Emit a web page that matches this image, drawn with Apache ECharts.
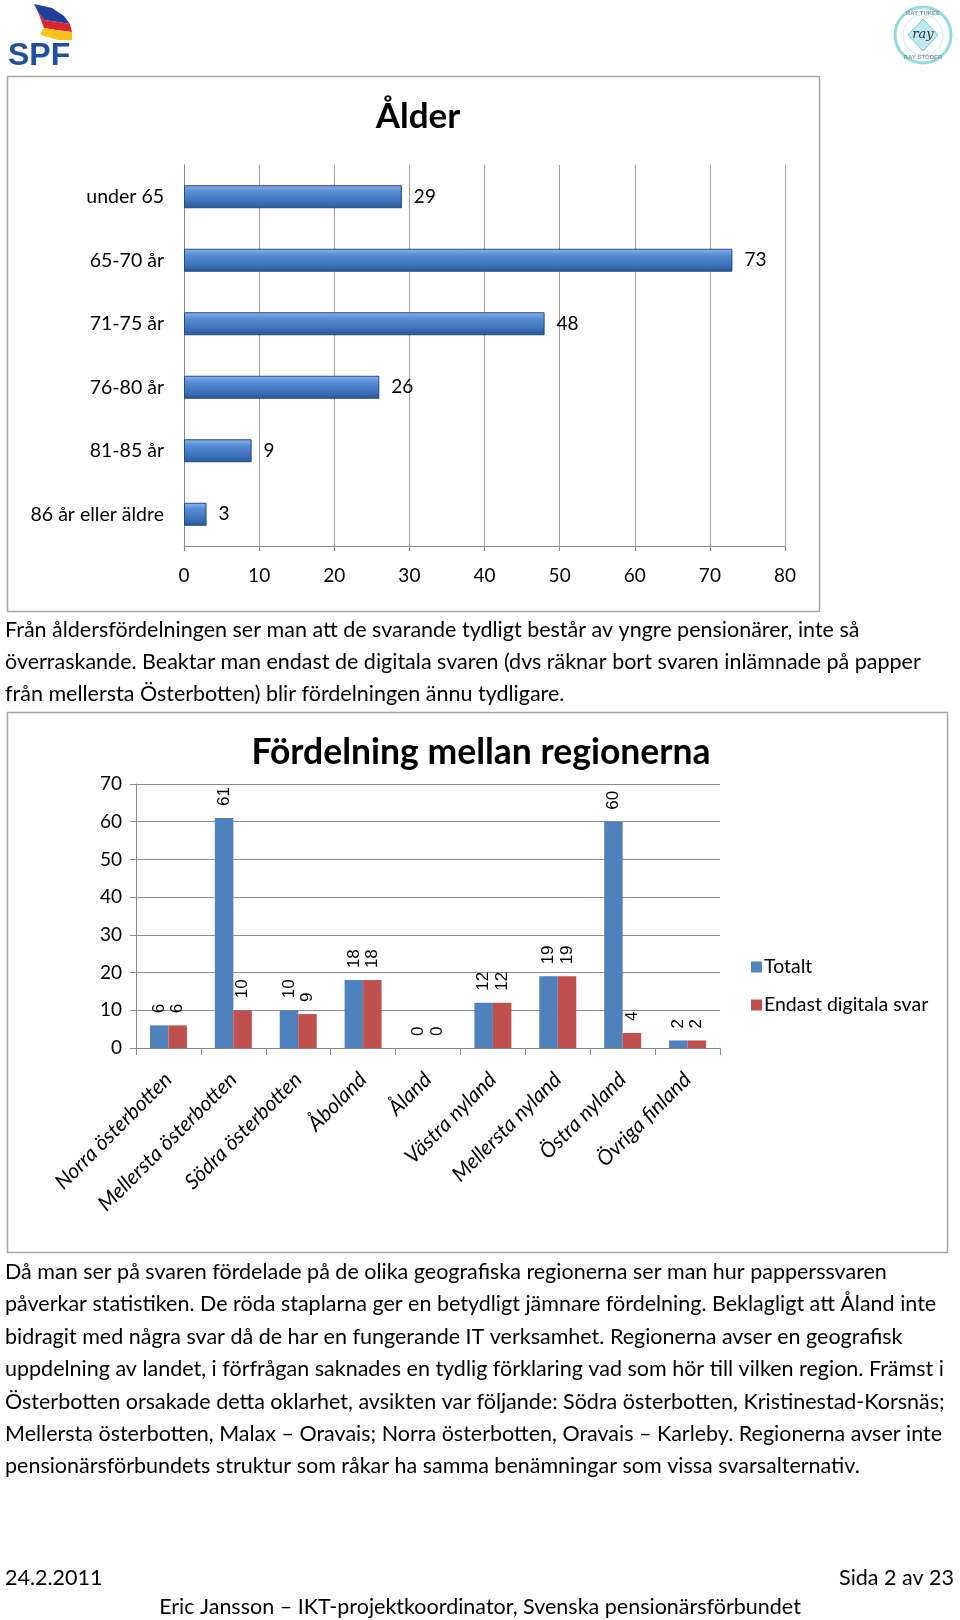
<!DOCTYPE html>
<html><head><meta charset="utf-8">
<script src="https://cdn.jsdelivr.net/npm/echarts@6/dist/echarts.min.js"></script>
<style>html,body{margin:0;padding:0;background:#fff}#c{width:960px;height:1620px}</style>
</head><body><div id="c"></div>
<script>
// ---- data ----
const ageCategories = ['under 65','65-70 år','71-75 år','76-80 år','81-85 år','86 år eller äldre'];
const ageValues = [29,73,48,26,9,3];
const regions = ['Norra österbotten','Mellersta österbotten','Södra österbotten','Åboland','Åland','Västra nyland','Mellersta nyland','Östra nyland','Övriga finland'];
const totaltValues = [6,61,10,18,0,12,19,60,2];
const digitalValues = [6,10,9,18,0,12,19,4,2];
const seriesNames = ['Totalt','Endast digitala svar'];
const para1 = [
 'Från åldersfördelningen ser man att de svarande tydligt består av yngre pensionärer, inte så',
 'överraskande. Beaktar man endast de digitala svaren (dvs räknar bort svaren inlämnade på papper',
 'från mellersta Österbotten) blir fördelningen ännu tydligare.'
];
const para2 = [
 'Då man ser på svaren fördelade på de olika geografiska regionerna ser man hur papperssvaren',
 'påverkar statistiken. De röda staplarna ger en betydligt jämnare fördelning. Beklagligt att Åland inte',
 'bidragit med några svar då de har en fungerande IT verksamhet. Regionerna avser en geografisk',
 'uppdelning av landet, i förfrågan saknades en tydlig förklaring vad som hör till vilken region. Främst i',
 'Österbotten orsakade detta oklarhet, avsikten var följande: Södra österbotten, Kristinestad-Korsnäs;',
 'Mellersta österbotten, Malax – Oravais; Norra österbotten, Oravais – Karleby. Regionerna avser inte',
 'pensionärsförbundets struktur som råkar ha samma benämningar som vissa svarsalternativ.'
];
const footerLeft = '24.2.2011';
const footerRight = 'Sida 2 av 23';
const footerCenter = 'Eric Jansson – IKT-projektkoordinator, Svenska pensionärsförbundet';

const FONT = 'Lato';
const BODY = '21.5px ' + FONT;
const chart = echarts.init(document.getElementById('c'), null, {renderer:'canvas'});

const graphics = [];
// boxes
graphics.push({type:'rect', shape:{x:7.5,y:76.5,width:812,height:535}, style:{fill:'none',stroke:'#a6a6a6',lineWidth:1.5}, z:-1});
graphics.push({type:'rect', shape:{x:7.5,y:712.5,width:940,height:540}, style:{fill:'none',stroke:'#a6a6a6',lineWidth:1.5}, z:-1});
// text lines
function addLines(lines, y0, step){
  lines.forEach((t,i)=>graphics.push({type:'text', x:5, y:y0+i*step, style:{text:t, font:BODY, fill:'#000', textVerticalAlign:'middle'}}));
}
addLines(para1, 630, 32);
addLines(para2, 1272, 32.4);
graphics.push({type:'text', x:5, y:1578, style:{text:footerLeft, font:BODY, fill:'#000', textVerticalAlign:'middle'}});
graphics.push({type:'text', x:954, y:1578, style:{text:footerRight, font:BODY, fill:'#000', textAlign:'right', textVerticalAlign:'middle'}});
graphics.push({type:'text', x:480, y:1607, style:{text:footerCenter, font:BODY, fill:'#000', textAlign:'center', textVerticalAlign:'middle'}});
// SPF logo
graphics.push({type:'polygon', shape:{points:[[34,4],[52,8],[64,16],[70,24],[58,22],[44,20],[38,12]]}, style:{fill:'#1f3f9a'}});
graphics.push({type:'polygon', shape:{points:[[38,12],[44,20],[58,22],[70,24],[72,32],[56,30],[44,28]]}, style:{fill:'#d7262e'}});
graphics.push({type:'polygon', shape:{points:[[44,28],[56,30],[72,32],[72,40],[58,40],[44,36],[40,34]]}, style:{fill:'#f6c21b'}});
graphics.push({type:'text', x:8, y:56, style:{text:'SPF', font:'bold 32px "Liberation Sans"', fill:'#1f4fa0', textVerticalAlign:'middle'}});
// ray logo
graphics.push({type:'circle', shape:{cx:923,cy:35,r:28}, style:{fill:'#fff',stroke:'#8fdbe2',lineWidth:3}});
graphics.push({type:'circle', shape:{cx:923,cy:35,r:20}, style:{fill:'none',stroke:'#c6eef2',lineWidth:1}});
graphics.push({type:'polygon', shape:{points:[[923,19],[938,35],[923,51],[908,35]]}, style:{fill:'#bfeaf0',stroke:'#6ccfd9',lineWidth:1}});
graphics.push({type:'text', x:923, y:35, style:{text:'ray', font:'italic 13px "DejaVu Serif"', fill:'#333', textAlign:'center', textVerticalAlign:'middle'}});
graphics.push({type:'text', x:923, y:13, style:{text:'RAY TUKEE', font:'bold 6px "Liberation Sans"', fill:'#7a9aa0', textAlign:'center', textVerticalAlign:'middle'}});
graphics.push({type:'text', x:923, y:57, style:{text:'RAY STÖDER', font:'bold 6px "Liberation Sans"', fill:'#7a9aa0', textAlign:'center', textVerticalAlign:'middle'}});

const barGrad = new echarts.graphic.LinearGradient(0,0,0,1,[
  {offset:0,color:'#8db5ea'},{offset:0.25,color:'#5a8fd6'},{offset:0.7,color:'#3d72bb'},{offset:1,color:'#2b5894'}]);

const option = {
  animation:false,
  backgroundColor:'#fff',
  textStyle:{fontFamily:FONT},
  title:[
    {text:'Ålder', left:413, top:112, textAlign:'center', textVerticalAlign:'middle',
     textStyle:{fontFamily:FONT,fontWeight:'bold',fontSize:35,color:'#000'}},
    {text:'Fördelning mellan regionerna', left:476, top:748, textAlign:'center', textVerticalAlign:'middle',
     textStyle:{fontFamily:FONT,fontWeight:'bold',fontSize:35.5,color:'#000'}}
  ],
  legend:{
    left:746, top:952, orient:'vertical', itemWidth:11, itemHeight:11, itemGap:18,
    data:seriesNames, icon:'rect',
    textStyle:{fontFamily:FONT,fontSize:19.5,color:'#000',padding:[0,0,0,-3]}
  },
  grid:[
    {left:184, right:175, top:165, bottom:1074, containLabel:false},
    {left:136, right:240, top:784, bottom:572, containLabel:false}
  ],
  xAxis:[
    {gridIndex:0, type:'value', min:0, max:80, interval:10,
     axisLine:{show:true,lineStyle:{color:'#888'}}, axisTick:{show:true,length:5,lineStyle:{color:'#888'}},
     splitLine:{show:true,lineStyle:{color:'#a0a0a0'}},
     axisLabel:{fontFamily:FONT,fontSize:19,color:'#000',margin:20}},
    {gridIndex:1, type:'category', data:regions,
     axisLine:{show:true,lineStyle:{color:'#888'}}, axisTick:{show:true,length:7,lineStyle:{color:'#888'}},
     axisLabel:{fontFamily:FONT,fontSize:21,color:'#000',fontStyle:'italic',rotate:45,margin:28,interval:0}}
  ],
  yAxis:[
    {gridIndex:0, type:'category', data:ageCategories, inverse:true,
     axisLine:{show:true,lineStyle:{color:'#888'}}, axisTick:{show:false},
     axisLabel:{fontFamily:FONT,fontSize:19.5,color:'#000',margin:20}},
    {gridIndex:1, type:'value', min:0, max:70, interval:10,
     axisLine:{show:true,lineStyle:{color:'#888'}}, axisTick:{show:true,length:6,lineStyle:{color:'#888'}},
     splitLine:{show:true,lineStyle:{color:'#8c8c8c'}},
     axisLabel:{fontFamily:FONT,fontSize:19,color:'#000',margin:14}}
  ],
  series:[
    {type:'bar', xAxisIndex:0, yAxisIndex:0, data:ageValues, barWidth:23,
     itemStyle:{color:barGrad, borderColor:'#1f4a80', borderWidth:1},
     label:{show:true, position:'right', distance:12, fontFamily:FONT, fontSize:19, color:'#000'}},
    {type:'bar', name:seriesNames[0], xAxisIndex:1, yAxisIndex:1, data:totaltValues,
     barGap:'0%', barCategoryGap:'43%', itemStyle:{color:'#4f81bd'},
     label:{show:true, position:'top', rotate:90, align:'left', verticalAlign:'middle', distance:12,
            fontFamily:'Liberation Sans', fontSize:17, color:'#000'}},
    {type:'bar', name:seriesNames[1], xAxisIndex:1, yAxisIndex:1, data:digitalValues,
     barGap:'0%', barCategoryGap:'43%', itemStyle:{color:'#c0504d'},
     label:{show:true, position:'top', rotate:90, align:'left', verticalAlign:'middle', distance:12,
            fontFamily:'Liberation Sans', fontSize:17, color:'#000'}}
  ],
  graphic:graphics
};
chart.setOption(option);
</script></body></html>
